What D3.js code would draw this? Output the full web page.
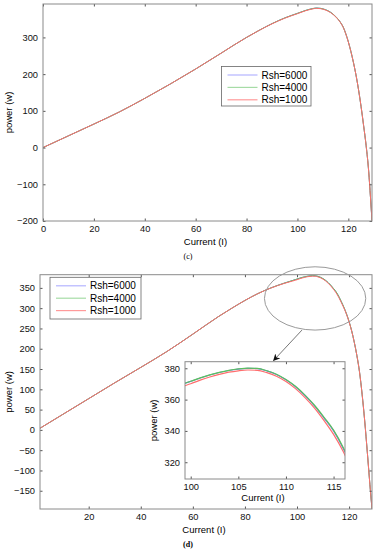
<!DOCTYPE html>
<html>
<head>
<meta charset="utf-8">
<script src="https://cdn.jsdelivr.net/npm/d3@7"></script>
<style>
  body { margin: 0; background: #fff; }
  svg { display: block; font-family: "Liberation Sans", Arial, sans-serif; }
</style>
</head>
<body>
<svg id="chart" width="376" height="550"></svg>
<script>
// legend names and colours
var seriesNames = ["Rsh=6000", "Rsh=4000", "Rsh=1000"];
var seriesColors = ["#6f7cf0", "#5cc05c", "#ff6e6e"];
var legendColors = ["#b4b4ff", "#a6dca6", "#ff9a9a"];

// panel (c)
var currentC = [0, 10, 20, 30, 40, 50, 60, 70, 75, 80, 85, 90, 95, 100, 103, 106, 107.5, 109, 111, 113, 115, 117, 118, 119, 120, 121, 122, 123, 124, 125, 126, 127, 128, 128.7, 129.3];
var powerC6000 = [0, 32, 64, 97, 134, 173, 214, 257, 279, 300, 319.5, 337.5, 353, 365.5, 373, 378.5, 380, 379.2, 375.5, 368.5, 357, 340, 328, 310, 288, 262, 232, 198, 158, 112, 60, 5, -65, -135, -200];
var powerC4000 = [0, 32, 64, 97, 134, 173, 214, 257, 279, 300, 319.5, 337.5, 353, 365.5, 373, 378.5, 379.9, 379.1, 375.5, 368.5, 357, 340, 328, 310, 288, 262, 232, 198, 158, 112, 60, 5, -65, -135, -200];
var powerC1000 = [0, 32, 64, 97, 134, 173, 214, 257, 279, 300, 319.3, 337, 352.3, 364.7, 372.2, 377.7, 379.2, 378.4, 374.7, 367.7, 356.2, 339.3, 327.4, 309.5, 287.6, 261.7, 231.8, 198, 158, 112, 60, 5, -65, -135, -200];

// panel (d)
var currentD = [1.3, 10, 20, 30, 40, 50, 60, 70, 75, 80, 85, 90, 95, 99.4, 100, 101, 102, 103, 104, 105, 106, 107, 108, 109, 110, 111, 112, 113, 114, 115, 116, 116.2, 117, 118, 119, 120, 121, 122, 123, 124, 125, 126, 127, 128, 128.8];
var powerD6000 = [4, 38, 77, 116, 154, 193, 236, 280, 300, 319, 336, 350, 361.5, 370.4, 371.6, 373.8, 375.7, 377.3, 378.6, 379.5, 380, 379.8, 378.3, 376, 372.6, 368.2, 362.6, 356, 348.2, 340, 329, 326.5, 316, 302, 286, 267, 244, 216, 183, 143, 88, 22, -55, -135, -195];
var powerD4000 = [4, 38, 77, 116, 154, 193, 236, 280, 300, 319, 336, 350, 361.5, 370.5, 371.7, 373.9, 375.8, 377.4, 378.7, 379.6, 380.1, 379.9, 378.4, 376.2, 372.8, 368.5, 362.9, 356.4, 348.7, 340.5, 329.6, 327.1, 316.5, 302.4, 286, 267, 244, 216, 183, 143, 88, 22, -55, -135, -195];
var powerD1000 = [4, 38, 77, 116, 154, 193, 236, 280, 300, 319, 336, 349.7, 360.9, 368.9, 370.1, 372.4, 374.4, 376.1, 377.5, 378.4, 378.9, 378.7, 377.2, 374.9, 371.5, 367, 361.3, 354.6, 346.6, 337.8, 327, 324.5, 314.2, 300.5, 285, 266, 243.5, 215.5, 183, 143, 88, 22, -55, -135, -195];

// tick values
var xTicksC = [0, 20, 40, 60, 80, 100, 120];
var yTicksC = [-200, -100, 0, 100, 200, 300];
var xTicksD = [20, 40, 60, 80, 100, 120];
var yTicksD = [-150, -100, -50, 0, 50, 100, 150, 200, 250, 300, 350];
var xTicksInset = [100, 105, 110, 115];
var yTicksInset = [320, 340, 360, 380];

var svg = d3.select("#chart");

function panel(o) {
    var x = d3.scaleLinear().domain(o.xDomain).range([o.left, o.right]);
    var y = d3.scaleLinear().domain(o.yDomain).range([o.bottom, o.top]);
    var g = svg.append("g");

    g.append("rect")
        .attr("x", o.left).attr("y", o.top)
        .attr("width", o.right - o.left).attr("height", o.bottom - o.top)
        .attr("fill", "#fff");

    var clipId = "clip" + o.id;
    g.append("clipPath").attr("id", clipId)
        .append("rect")
        .attr("x", o.left).attr("y", o.top)
        .attr("width", o.right - o.left).attr("height", o.bottom - o.top);

    var line = d3.line()
        .x(function(d) { return x(d[0]); })
        .y(function(d) { return y(d[1]); })
        .curve(d3.curveMonotoneX);

    var lines = g.append("g").attr("clip-path", "url(#" + clipId + ")");
    o.series.forEach(function(s, i) {
        var pts = o.current.map(function(c, j) { return [c, s[j]]; });
        lines.append("path")
            .datum(pts)
            .attr("fill", "none")
            .attr("stroke", seriesColors[i])
            .attr("stroke-width", o.lw)
            .attr("d", line);
    });

    // axes, ticks pointing inwards on all four sides
    function style(a) {
        a.select(".domain").remove();
        a.selectAll(".tick line").attr("stroke", "#555");
        a.selectAll(".tick text").attr("fill", "#111").style("font-size", "9.3px");
    }
    g.append("g").attr("transform", "translate(0," + o.bottom + ")")
        .call(d3.axisBottom(x).tickValues(o.xTicks).tickSize(-2.5).tickPadding(4.5))
        .call(style);
    g.append("g").attr("transform", "translate(0," + o.top + ")")
        .call(d3.axisTop(x).tickValues(o.xTicks).tickSize(-2.5).tickFormat(""))
        .call(style);
    g.append("g").attr("transform", "translate(" + o.left + ",0)")
        .call(d3.axisLeft(y).tickValues(o.yTicks).tickSize(-2.5).tickPadding(5))
        .call(style);
    g.append("g").attr("transform", "translate(" + o.right + ",0)")
        .call(d3.axisRight(y).tickValues(o.yTicks).tickSize(-2.5).tickFormat(""))
        .call(style);

    g.append("rect")
        .attr("x", o.left).attr("y", o.top)
        .attr("width", o.right - o.left).attr("height", o.bottom - o.top)
        .attr("fill", "none").attr("stroke", "#8a8a8a").attr("stroke-width", 1);

    g.append("text")
        .attr("x", (o.left + o.right) / 2 - 2)
        .attr("y", o.bottom + o.xLabelDy)
        .attr("text-anchor", "middle")
        .style("font-size", "9.5px")
        .text("Current (I)");

    g.append("text")
        .attr("transform", "translate(" + (o.left - o.yLabelDx) + "," + ((o.top + o.bottom) / 2) + ") rotate(-90)")
        .attr("text-anchor", "middle")
        .style("font-size", "9.5px")
        .text("power (w)");

    if (o.legend) {
        var L = o.legend;
        var lg = g.append("g");
        lg.append("rect")
            .attr("x", L.x).attr("y", L.y).attr("width", L.w).attr("height", L.h)
            .attr("fill", "#fff").attr("stroke", "#666").attr("stroke-width", 0.8);
        seriesNames.forEach(function(n, i) {
            var yy = L.y + 8.5 + i * 12.4;
            lg.append("line")
                .attr("x1", L.x + 6).attr("x2", L.x + 36)
                .attr("y1", yy).attr("y2", yy)
                .attr("stroke", legendColors[i]).attr("stroke-width", 1.2);
            lg.append("text")
                .attr("x", L.x + 40).attr("y", yy + 3.5)
                .style("font-size", "10px")
                .text(n);
        });
    }
    return { x: x, y: y };
}

// (c)
panel({
    id: "c", left: 43, right: 372, top: 4, bottom: 221,
    xDomain: [0, 129.3], yDomain: [-200, 391],
    current: currentC, series: [powerC6000, powerC4000, powerC1000],
    xTicks: xTicksC, yTicks: yTicksC, lw: 1,
    xLabelDy: 24, yLabelDx: 31,
    legend: { x: 221.5, y: 66.5, w: 89.5, h: 39.5 }
});
svg.append("text").attr("x", 188).attr("y", 259)
    .attr("text-anchor", "middle")
    .style("font-family", "Liberation Serif, serif").style("font-size", "8px")
    .text("(c)");

// (d)
var d = panel({
    id: "d", left: 40, right: 372, top: 274.7, bottom: 509,
    xDomain: [1.3, 128.8], yDomain: [-195, 382.5],
    current: currentD, series: [powerD6000, powerD4000, powerD1000],
    xTicks: xTicksD, yTicks: yTicksD, lw: 1,
    xLabelDy: 23.5, yLabelDx: 28,
    legend: { x: 50, y: 277.3, w: 91, h: 41.7 }
});
svg.append("text").attr("x", 188).attr("y", 547)
    .attr("text-anchor", "middle")
    .style("font-family", "Liberation Serif, serif").style("font-size", "8px")
    .style("font-weight", "bold")
    .text("(d)");

// zoom marker: ellipse round the peak and arrow to the inset
var ellipseI = [87.5, 126.4];
var ellipseP = [246, 402];
svg.append("ellipse")
    .attr("cx", (d.x(ellipseI[0]) + d.x(ellipseI[1])) / 2)
    .attr("cy", (d.y(ellipseP[0]) + d.y(ellipseP[1])) / 2)
    .attr("rx", (d.x(ellipseI[1]) - d.x(ellipseI[0])) / 2)
    .attr("ry", (d.y(ellipseP[0]) - d.y(ellipseP[1])) / 2)
    .attr("fill", "none").attr("stroke", "#9a9a9a").attr("stroke-width", 1);

svg.append("defs").append("marker")
    .attr("id", "arrow").attr("viewBox", "0 0 10 10")
    .attr("refX", 9).attr("refY", 5)
    .attr("markerWidth", 7).attr("markerHeight", 7)
    .attr("orient", "auto")
    .append("path").attr("d", "M0,0 L10,5 L0,10 L3,5 Z").attr("fill", "#111");

var arrowFrom = [101.9, 246];
var arrowTo = [91, 171];
svg.append("line")
    .attr("x1", d.x(arrowFrom[0])).attr("y1", d.y(arrowFrom[1]))
    .attr("x2", d.x(arrowTo[0])).attr("y2", d.y(arrowTo[1]))
    .attr("stroke", "#777").attr("stroke-width", 1)
    .attr("marker-end", "url(#arrow)");

// inset
panel({
    id: "inset", left: 185, right: 345, top: 361.7, bottom: 479,
    xDomain: [99.4, 116.2], yDomain: [309.3, 384.2],
    current: currentD, series: [powerD6000, powerD4000, powerD1000],
    xTicks: xTicksInset, yTicks: yTicksInset, lw: 1.2,
    xLabelDy: 21.5, yLabelDx: 28
});
</script>
</body>
</html>
